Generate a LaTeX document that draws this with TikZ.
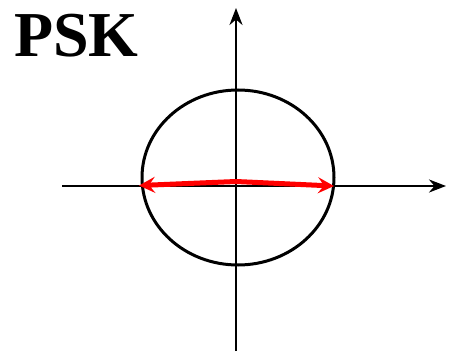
\documentclass[tikz,border=0pt]{standalone}
\usepackage{fontspec}
\setmainfont{Liberation Serif}
\usetikzlibrary{arrows.meta,shapes.geometric}
\begin{document}
\begin{tikzpicture}[x=1pt,y=1pt,
  axis/.style={draw=black,line width=2.6pt,-{Stealth[length=17pt,width=13pt]}},
  vec/.style={draw=red,line width=5pt,-{Stealth[length=16pt,width=16pt,inset=6pt]},shorten >=-1pt},
  ring/.style={ellipse,draw=black,line width=3pt,minimum width=192pt,minimum height=175pt,inner sep=0pt}]
\useasboundingbox (0,0) rectangle (458,351);
\fill[white] (0,0) rectangle (458,351);
\coordinate (vb) at (236,0);
\coordinate (vt) at (236,343);
\coordinate (hl) at (62,165);
\coordinate (hr) at (446,165);
\coordinate (o) at (236,169.5);
\coordinate (pl) at (140,165.5);
\coordinate (pr) at (333,165);
\draw[axis] (vb) -- (vt);
\draw[axis] (hl) -- (hr);
\node[ring] (e) at (238,173.5) {};
\draw[vec] (o) -- (pl);
\draw[vec] (o) -- (pr);
\node[anchor=base west,inner sep=0pt,font=\fontsize{64}{70}\selectfont\bfseries] (title) at (14,294) {PSK};
\end{tikzpicture}
\end{document}
